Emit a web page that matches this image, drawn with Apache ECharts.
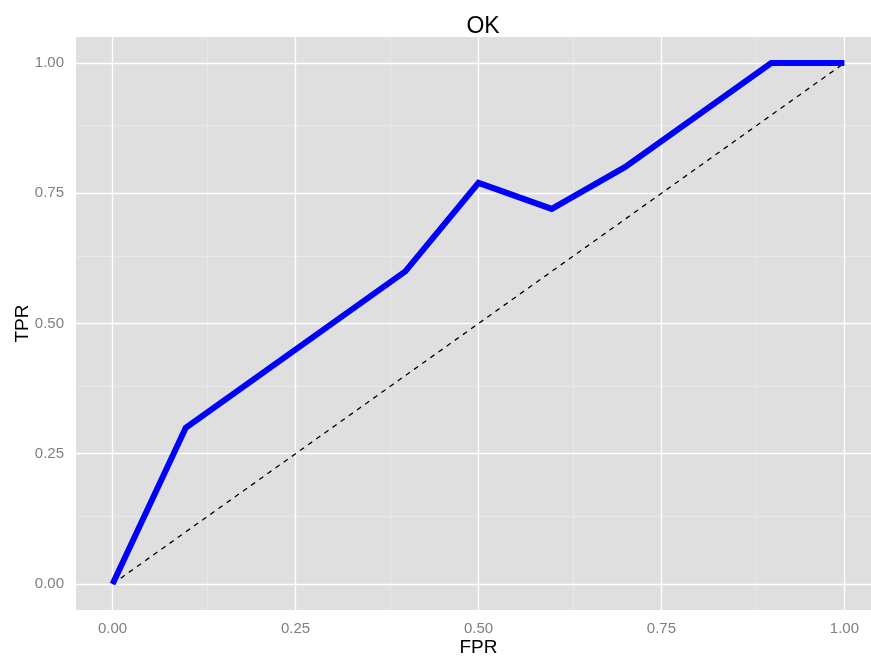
<!DOCTYPE html>
<html><head><meta charset="utf-8">
<script src="https://cdn.jsdelivr.net/npm/echarts@6/dist/echarts.min.js"></script>
<style>html,body{margin:0;padding:0;background:#fff}#c{width:871px;height:657px}</style>
</head><body><div id="c"></div>
<script>
const fpr = [0, 0.1, 0.4, 0.5, 0.6, 0.7, 0.9, 1.0];
const tpr = [0, 0.3, 0.6, 0.77, 0.72, 0.8, 1.0, 1.0];
const diagX = [0, 1];
const diagY = [0, 1];
const majorTicks = [0, 0.25, 0.5, 0.75, 1];
const minorTicks = [0.125, 0.375, 0.625, 0.875];
const tickLabels = ['0.00', '0.25', '0.50', '0.75', '1.00'];

const FONT = 'Liberation Sans, Arial, Helvetica, sans-serif';
const chart = echarts.init(document.getElementById('c'), null, {renderer: 'canvas'});
const fmt = v => { const i = majorTicks.findIndex(t => Math.abs(t - v) < 1e-9); return i >= 0 ? tickLabels[i] : ''; };
const gridLines = [];
minorTicks.forEach(v => { gridLines.push({xAxis: v, lineStyle: {color: '#EEEEEE', width: 0.6, type: 'solid'}}); gridLines.push({yAxis: v, lineStyle: {color: '#EEEEEE', width: 0.6, type: 'solid'}}); });
majorTicks.forEach(v => { gridLines.push({xAxis: v, lineStyle: {color: '#FFFFFF', width: 1.3, type: 'solid'}}); gridLines.push({yAxis: v, lineStyle: {color: '#FFFFFF', width: 1.3, type: 'solid'}}); });

const axisCommon = {
  type: 'value', splitLine: {show: false},
  axisLine: {show: false},
  nameMoveOverlap: false,
  axisTick: {show: true, length: 5, lineStyle: {color: '#7F7F7F', width: 1}, customValues: majorTicks},
  axisLabel: {color: '#7F7F7F', fontSize: 15, fontFamily: FONT, customValues: majorTicks, formatter: fmt, showMinLabel: true, showMaxLabel: true}
};

chart.setOption({
  animation: false,
  title: {text: 'OK', left: 478, top: 10, textAlign: 'center', textStyle: {fontSize: 23, fontWeight: 'normal', color: '#000', fontFamily: FONT}},
  grid: {left: 76, top: 37, width: 805, height: 573, show: true, backgroundColor: '#DFDFDF', borderWidth: 0, outerBoundsMode: 'none', containLabel: false},
  xAxis: Object.assign({}, axisCommon, {min: -0.05, max: 1.05, name: 'FPR', nameLocation: 'middle', nameGap: 28,
    nameTextStyle: {fontSize: 19, color: '#000', fontFamily: FONT},
    axisLabel: Object.assign({}, axisCommon.axisLabel, {margin: 11})}),
  yAxis: Object.assign({}, axisCommon, {min: -0.05, max: 1.05, name: 'TPR', nameLocation: 'middle', nameGap: 44,
    nameTextStyle: {fontSize: 19, color: '#000', fontFamily: FONT},
    axisLabel: Object.assign({}, axisCommon.axisLabel, {margin: 12})}),
  series: [
    {type: 'line', data: [], silent: true, z: 1, markLine: {silent: true, symbol: 'none', label: {show: false}, animation: false, z: 1, data: gridLines}},
    {type: 'line', data: diagX.map((x, i) => [x, diagY[i]]), symbol: 'none', z: 5, lineStyle: {color: '#000', width: 1.3, type: [5, 5]}},
    {type: 'line', data: fpr.map((x, i) => [x, tpr[i]]), symbol: 'none', z: 6, lineStyle: {color: '#0000FF', width: 6, cap: 'butt', join: 'miter'}}
  ]
});
</script></body></html>
